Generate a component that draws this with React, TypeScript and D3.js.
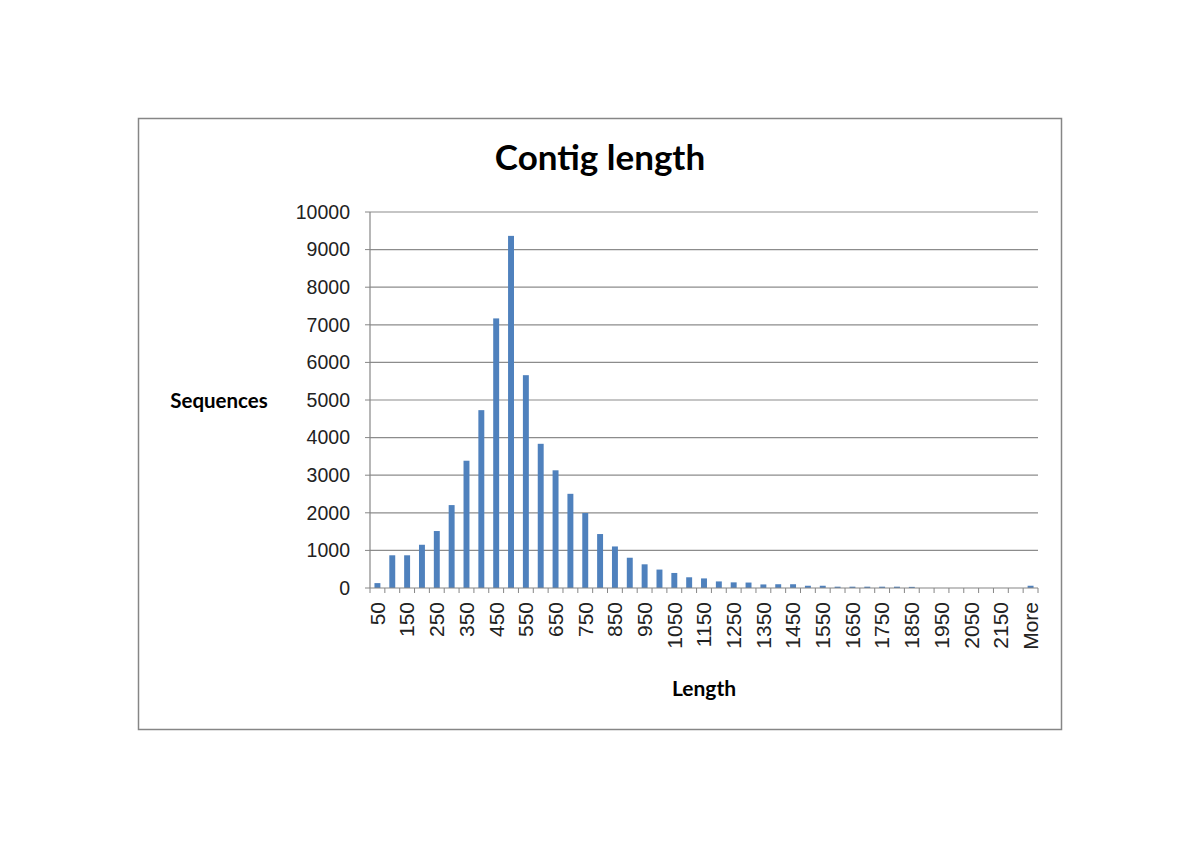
import React from "react";
import * as d3 from "d3";

const categories: string[] = [
  "50","100","150","200","250","300","350","400","450","500",
  "550","600","650","700","750","800","850","900","950","1000",
  "1050","1100","1150","1200","1250","1300","1350","1400","1450","1500",
  "1550","1600","1650","1700","1750","1800","1850","1900","1950","2000",
  "2050","2100","2150","2200","More",
];
const counts: number[] = [
  130, 870, 870, 1150, 1515, 2205, 3385, 4730, 7170, 9365,
  5660, 3835, 3130, 2505, 1995, 1435, 1105, 805, 630, 490,
  400, 285, 255, 175, 150, 145, 95, 100, 100, 60,
  60, 35, 35, 35, 35, 35, 30, 0, 0, 0,
  0, 0, 0, 0, 60,
];
const yTicks: number[] = [0, 1000, 2000, 3000, 4000, 5000, 6000, 7000, 8000, 9000, 10000];

const W = 1200;
const H = 848;
const plot = { left: 370, right: 1038, top: 212, bottom: 588 };

export default function App() {
  const x = d3
    .scaleBand<string>()
    .domain(categories)
    .range([plot.left, plot.right])
    .paddingInner(0.6)
    .paddingOuter(0.3);
  const step = x.step();
  const y = d3.scaleLinear().domain([0, 10000]).range([plot.bottom, plot.top]);
  const axisColor = "#868686";
  const labelFont = "'Liberation Sans', Arial, sans-serif";
  const boldFont = "Lato, 'Open Sans', sans-serif";

  const boundaries = d3.range(categories.length + 1).map((i) => plot.left + i * step);

  return (
    <svg width={W} height={H} style={{ display: "block", position: "absolute", left: 0, top: 0 }}>
      <rect x={0} y={0} width={W} height={H} fill="#ffffff" />
      <rect x={138.5} y={118.5} width={923} height={611} fill="#ffffff" stroke={axisColor} strokeWidth={1.5} />
      <text x={600} y={170} textAnchor="middle" fontFamily={boldFont} fontWeight="bold" fontSize={35} fill="#000">
        Contig length
      </text>
      {yTicks.map((t) => (
        <g key={t}>
          {t > 0 && (
            <line x1={plot.left} x2={plot.right} y1={y(t)} y2={y(t)} stroke="#8c8c8c" strokeWidth={1.2} />
          )}
          <line x1={plot.left - 5} x2={plot.left} y1={y(t)} y2={y(t)} stroke={axisColor} strokeWidth={1} />
          <text x={plot.left - 20} y={y(t)} dy="0.35em" textAnchor="end" fontFamily={labelFont} fontSize={19.5} fill="#222">
            {t}
          </text>
        </g>
      ))}
      {categories.map((c, i) => (
        <rect key={c} x={x(c)} y={y(counts[i])} width={x.bandwidth()} height={plot.bottom - y(counts[i])} fill="#4F81BD" />
      ))}
      <line x1={plot.left} x2={plot.left} y1={plot.top} y2={plot.bottom} stroke={axisColor} strokeWidth={1.2} />
      <line x1={plot.left} x2={plot.right} y1={plot.bottom} y2={plot.bottom} stroke={axisColor} strokeWidth={1.2} />
      {boundaries.map((bx, i) => (
        <line key={i} x1={bx} x2={bx} y1={plot.bottom} y2={plot.bottom + 5} stroke={axisColor} strokeWidth={1} />
      ))}
      {categories.map((c, i) =>
        i % 2 === 0 ? (
          <text
            key={c}
            transform={`translate(${(x(c) as number) + x.bandwidth() / 2},${plot.bottom + 14}) rotate(-90)`}
            dy="0.35em"
            textAnchor="end"
            fontFamily={labelFont}
            fontSize={21}
            fill="#222"
          >
            {c}
          </text>
        ) : null
      )}
      <text x={219} y={408} textAnchor="middle" fontFamily={boldFont} fontWeight="bold" fontSize={20.5} fill="#000">
        Sequences
      </text>
      <text x={704} y={696} textAnchor="middle" fontFamily={boldFont} fontWeight="bold" fontSize={21} fill="#000">
        Length
      </text>
    </svg>
  );
}
